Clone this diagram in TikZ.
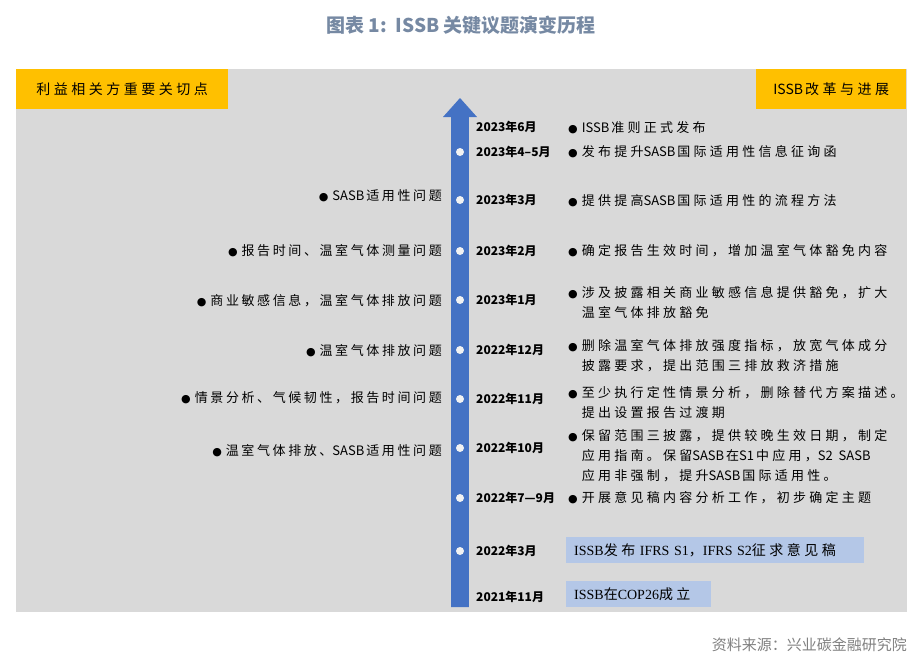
\documentclass[tikz,border=0pt]{standalone}
\usepackage{fontspec}
\setmainfont{Noto Sans CJK SC}
\newfontfamily\spR{Noto Sans CJK SC}[LetterSpace=25]
\newfontfamily\spL{Noto Sans CJK SC}[LetterSpace=20]
\newfontfamily\spH{Noto Sans CJK SC}[LetterSpace=25]
\newfontfamily\ser{Liberation Serif}
\newfontfamily\dv{DejaVu Sans}
\definecolor{bggray}{HTML}{D9D9D9}
\definecolor{hdorange}{HTML}{FFC000}
\definecolor{axisblue}{HTML}{4472C4}
\definecolor{boxblue}{HTML}{B4C7E7}
\definecolor{dotwhite}{HTML}{F2F2F2}
\definecolor{titlec}{HTML}{7689A3}
\definecolor{srcc}{HTML}{808080}
\newcommand\bul{{\dv\fontsize{11}{11}\selectfont ●}\hspace{4pt}}
\newcommand\ml[1]{\begin{tabular}[t]{@{}l@{}}#1\end{tabular}}
\newcommand\lt[1]{{\rmfamily #1}\hspace{2pt}}
\begin{document}
\begin{tikzpicture}[x=1pt,y=-1pt,
  hdbox/.style={fill=hdorange,inner sep=0pt,minimum height=40pt,font=\spH\fontsize{14}{14}\selectfont},
  datelbl/.style={anchor=west,inner sep=0pt,font=\bfseries\fontsize{12}{12}\selectfont},
  ritem/.style={anchor=base west,inner sep=0pt,font=\spR\fontsize{13}{20}\selectfont},
  litem/.style={anchor=base east,inner sep=0pt,font=\spL\fontsize{13}{20}\selectfont},
  evbox/.style={anchor=north west,fill=boxblue,inner xsep=8pt,inner ysep=0pt,minimum height=26pt,align=left,font=\fontsize{14}{14}\selectfont},
  tdot/.style={circle,fill=dotwhite,inner sep=0pt,minimum size=8pt}
]
\useasboundingbox (0,0) rectangle (922,665);
% title
\node[font=\bfseries\fontsize{19}{19}\selectfont,text=titlec] (title) at (461,25) {图表 1:~~ISSB 关键议题演变历程};
% background
\fill[bggray] (16,69) rectangle (907,612);
% headers
\node[hdbox,anchor=north west,minimum width=212pt] (lh) at (16,69) {利益相关方重要关切点};
\node[hdbox,anchor=north west,minimum width=150pt] (rh) at (756,69) {\lt{ISSB}改革与进展};
% axis
\coordinate (axbot) at (460,607);
\coordinate (axtop) at (460,98);
\fill[axisblue] ([xshift=-8.8pt]axbot) -- ([xshift=-8.8pt]axbot |- 0,117) -- ([xshift=-17pt]axbot |- 0,117) -- (axtop) -- ([xshift=17pt]axbot |- 0,117) -- ([xshift=8.8pt]axbot |- 0,117) -- ([xshift=8.8pt]axbot) -- cycle;
% dots
\foreach \yy/\nm in {152/p1,200/p2,251/p3,300/p4,350/p5,399/p6,448/p7,498/p8,551/p9}
  \node[tdot] (\nm) at (460,\yy) {};
% dates
\node[datelbl] (d1) at (476,127) {2023年6月};
\node[datelbl] (d2) at (476,152) {2023年4–5月};
\node[datelbl] (d3) at (476,200) {2023年3月};
\node[datelbl] (d4) at (476,251) {2023年2月};
\node[datelbl] (d5) at (476,300) {2023年1月};
\node[datelbl] (d6) at (476,350) {2022年12月};
\node[datelbl] (d7) at (476,399) {2022年11月};
\node[datelbl] (d8) at (476,448) {2022年10月};
\node[datelbl] (d9) at (476,498) {2022年7—9月};
\node[datelbl] (d10) at (476,551) {2022年3月};
\node[datelbl] (d11) at (476,597) {2021年11月};
% right items
\node[ritem] (r1) at (568,132) {\bul\ml{\lt{ISSB}准则正式发布}};
\node[ritem] (r2) at (568,156) {\bul\ml{发布提升\lt{SASB}国际适用性信息征询函}};
\node[ritem] (r3) at (568,205) {\bul\ml{提供提高\lt{SASB}国际适用性的流程方法}};
\node[ritem] (r4) at (568,255) {\bul\ml{确定报告生效时间，增加温室气体豁免内容}};
\node[ritem] (r5) at (568,297) {\bul\ml{涉及披露相关商业敏感信息提供豁免，扩大\\温室气体排放豁免}};
\node[ritem] (r6) at (568,350) {\bul\ml{删除温室气体排放强度指标，放宽气体成分\\披露要求，提出范围三排放救济措施}};
\node[ritem] (r7) at (568,397) {\bul\ml{至少执行定性情景分析，删除替代方案描述。\\提出设置报告过渡期}};
\node[ritem] (r8) at (568,440) {\bul\ml{保留范围三披露，提供较晚生效日期，制定\\应用指南。保留\lt{SASB}在\lt{S1}中应用，\lt{S2\ \ SASB}\\应用非强制，提升\lt{SASB}国际适用性。}};
\node[ritem] (r9) at (568,502) {\bul\ml{开展意见稿内容分析工作，初步确定主题}};
% event boxes
\node[evbox,text width=282pt] (b1) at (566,537) {{\ser ISSB}{\spR 发布} {\ser IFRS S1}，{\ser IFRS S2}{\spR 征求意见稿}};
\node[evbox,text width=129pt] (b2) at (566,581) {{\ser ISSB}{\spR 在}{\ser COP26}{\spR 成立}};
% left items
\node[litem] (l1) at (442,200) {\bul\lt{SASB}适用性问题};
\node[litem] (l2) at (442,255) {\bul 报告时间、温室气体测量问题};
\node[litem] (l3) at (442,305) {\bul 商业敏感信息，温室气体排放问题};
\node[litem] (l4) at (442,355) {\bul 温室气体排放问题};
\node[litem] (l5) at (442,402) {\bul 情景分析、气候韧性，报告时间问题};
\node[litem] (l6) at (442,455) {\bul 温室气体排放、\lt{SASB}适用性问题};
% source
\node[anchor=east,inner sep=0pt,text=srcc,font=\fontsize{15}{15}\selectfont] (src) at (907,645) {资料来源：兴业碳金融研究院};
\end{tikzpicture}
\end{document}
